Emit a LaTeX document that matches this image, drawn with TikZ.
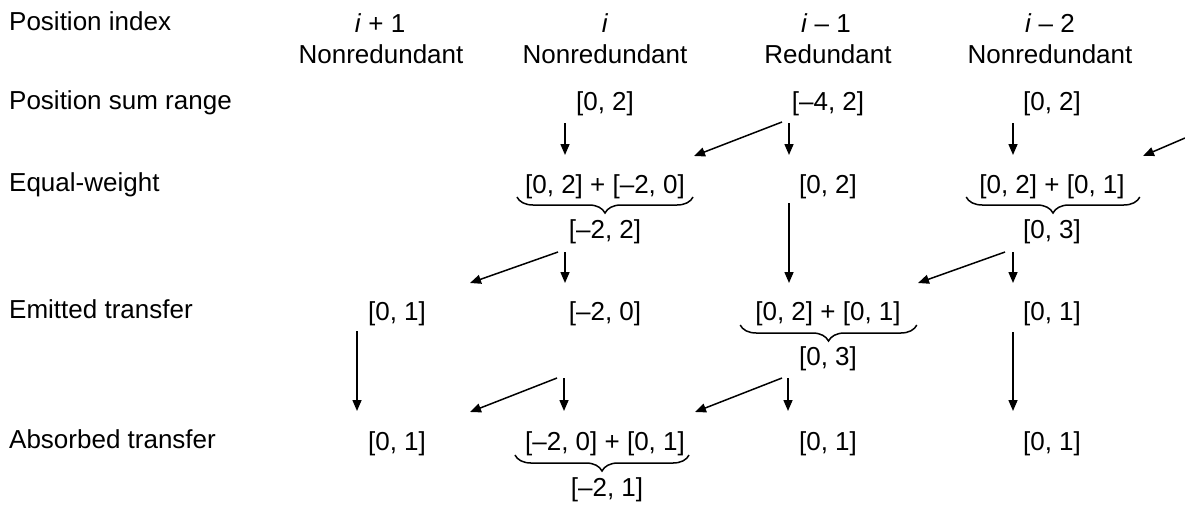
\documentclass[tikz,border=0pt]{standalone}
\usepackage{fontspec}
\setmainfont{Liberation Sans}
\usetikzlibrary{arrows.meta,decorations.pathreplacing,calc}
\tikzset{
  lbl/.style={anchor=base west,inner sep=0pt,font=\fontsize{26}{31}\selectfont},
  val/.style={anchor=base,inner sep=0pt,font=\fontsize{26}{31}\selectfont},
  arr/.style={line width=1.5pt,-{Triangle[length=11pt,width=9pt]}},
  brc/.style={line width=1.5pt,decorate,decoration={brace,mirror,amplitude=16pt}}
}
\begin{document}
\begin{tikzpicture}[x=1pt,y=-1pt]
\useasboundingbox (0,0) rectangle (1185,504);
% row labels
\node[lbl] (lpi) at (9,30) {Position index};
\node[lbl] (lps) at (9,109) {Position sum range};
\node[lbl] (lew) at (9,191) {Equal-weight};
\node[lbl] (let) at (9,318) {Emitted transfer};
\node[lbl] (lat) at (9,448) {Absorbed transfer};
% headers
\node[val] (hA1) at (380,32) {\textit{i} + 1};
\node[val] (hA2) at (381,63) {Nonredundant};
\node[val] (hB1) at (605,32) {\textit{i}};
\node[val] (hB2) at (605,63) {Nonredundant};
\node[val] (hC1) at (826,32) {\textit{i} – 1};
\node[val] (hC2) at (828,63) {Redundant};
\node[val] (hD1) at (1050,32) {\textit{i} – 2};
\node[val] (hD2) at (1050,63) {Nonredundant};
% row 1
\node[val] (r1B) at (605,110) {[0, 2]};
\node[val] (r1C) at (828,110) {[–4, 2]};
\node[val] (r1D) at (1052,110) {[0, 2]};
% row 2
\node[val] (r2B) at (605,193) {[0, 2] + [–2, 0]};
\node[val] (r2C) at (828,193) {[0, 2]};
\node[val] (r2D) at (1052,193) {[0, 2] + [0, 1]};
\node[val] (s2B) at (605,238) {[–2, 2]};
\node[val] (s2D) at (1052,238) {[0, 3]};
% row 3
\node[val] (r3A) at (397,320) {[0, 1]};
\node[val] (r3B) at (605,320) {[–2, 0]};
\node[val] (r3C) at (828,320) {[0, 2] + [0, 1]};
\node[val] (r3D) at (1052,320) {[0, 1]};
\node[val] (s3C) at (828,365) {[0, 3]};
% row 4
\node[val] (r4A) at (397,450) {[0, 1]};
\node[val] (r4B) at (605,450) {[–2, 0] + [0, 1]};
\node[val] (r4C) at (828,450) {[0, 1]};
\node[val] (r4D) at (1052,450) {[0, 1]};
\node[val] (s4B) at (607,496) {[–2, 1]};
% braces
\draw[brc] ([shift={(-8,4)}]r2B.base west) -- ([shift={(8,4)}]r2B.base east);
\draw[brc] ([shift={(-13,4)}]r2D.base west) -- ([shift={(15,4)}]r2D.base east);
\draw[brc] ([shift={(-15,5)}]r3C.base west) -- ([shift={(16,5)}]r3C.base east);
\draw[brc] ([shift={(-10,5)}]r4B.base west) -- ([shift={(4,5)}]r4B.base east);
% arrows row 1 -> row 2
\coordinate (offR) at (1185,138);
\draw[arr] ([shift={(-40,13)}]r1B.base) -- ([shift={(-40,-38)}]r2B.base);
\draw[arr] ([shift={(-39,13)}]r1C.base) -- ([shift={(-39,-38)}]r2C.base);
\draw[arr] ([shift={(-46,12)}]r1C.base) -- ([shift={(89,-37)}]r2B.base);
\draw[arr] ([shift={(-39,13)}]r1D.base) -- ([shift={(-39,-38)}]r2D.base);
\draw[arr] (offR) -- ([shift={(91,-37)}]r2D.base);
% arrows row 2 -> row 3
\draw[arr] ([shift={(-47,14)}]s2B.base) -- ([shift={(73,-37)}]r3A.base);
\draw[arr] ([shift={(-40,14)}]s2B.base) -- ([shift={(-40,-37)}]r3B.base);
\draw[arr] ([shift={(-39,10)}]r2C.base) -- ([shift={(-39,-37)}]r3C.base);
\draw[arr] ([shift={(-47,14)}]s2D.base) -- ([shift={(90,-37)}]r3C.base);
\draw[arr] ([shift={(-39,14)}]s2D.base) -- ([shift={(-39,-37)}]r3D.base);
% arrows row 3 -> row 4
\draw[arr] ([shift={(-40,11)}]r3A.base) -- ([shift={(-40,-39)}]r4A.base);
\draw[arr] ([shift={(-48,58)}]r3B.base) -- ([shift={(73,-38)}]r4A.base);
\draw[arr] ([shift={(-41,58)}]r3B.base) -- ([shift={(-41,-39)}]r4B.base);
\draw[arr] ([shift={(-46,13)}]s3C.base) -- ([shift={(90,-38)}]r4B.base);
\draw[arr] ([shift={(-40,13)}]s3C.base) -- ([shift={(-40,-39)}]r4C.base);
\draw[arr] ([shift={(-39,12)}]r3D.base) -- ([shift={(-39,-39)}]r4D.base);
\end{tikzpicture}
\end{document}
